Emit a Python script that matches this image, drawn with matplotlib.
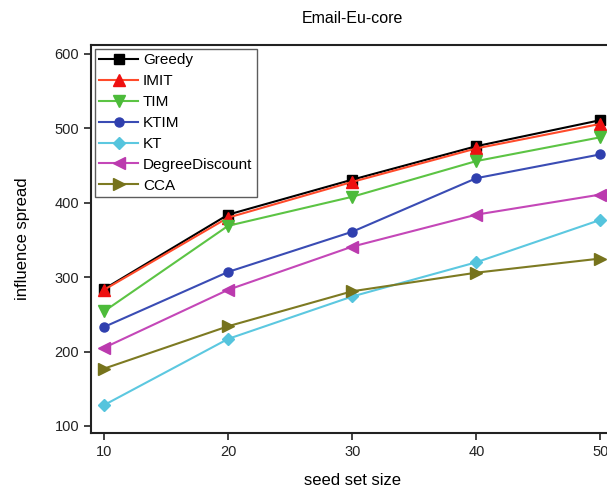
import matplotlib
matplotlib.use("Agg")
import matplotlib.pyplot as plt

seed_sizes = [10, 20, 30, 40, 50]
greedy = [284, 384, 431, 476, 511]
imit = [283, 380, 428, 473, 506]
tim = [254, 369, 408, 456, 488]
ktim = [233, 307, 361, 433, 465]
kt = [128, 217, 274, 320, 377]
degree_discount = [205, 283, 341, 384, 411]
cca = [177, 234, 281, 306, 325]

series = [
    ("Greedy", greedy, "#000000", "#000000", "s"),
    ("IMIT", imit, "#ff4a2a", "#ee1111", "^"),
    ("TIM", tim, "#5cc444", "#4cbb3a", "v"),
    ("KTIM", ktim, "#3a4cb4", "#2f3fae", "o"),
    ("KT", kt, "#5cc8e0", "#55c4dd", "D"),
    ("DegreeDiscount", degree_discount, "#c447b8", "#bb3aae", "<"),
    ("CCA", cca, "#7d7a22", "#76731c", ">"),
]

plt.rcParams['font.family'] = ['Liberation Sans', 'DejaVu Sans']

fig = plt.figure(figsize=(6.07, 4.91), dpi=100)
W, H = 607, 491
left, right, top, bottom = 91, 613.5, 45, 433
ax = fig.add_axes([left / W, 1 - bottom / H, (right - left) / W, (bottom - top) / H])

for name, vals, lc, mc, mk in series:
    ms = 6.5 if mk in ("s", "o", "D") else 8.5
    ax.plot(seed_sizes, vals, color=lc, marker=mk, markersize=ms,
            markerfacecolor=mc, markeredgecolor=mc, linewidth=1.5, label=name)

ax.set_xlim(8.95, 51.05)
ax.set_ylim(90.5, 612)
ax.set_xticks(seed_sizes)
ax.set_yticks([100, 200, 300, 400, 500, 600])
ax.tick_params(direction='out', length=5, width=1.2, labelsize=10.5, colors='#222222')
for s in ax.spines.values():
    s.set_linewidth(1.5)
    s.set_color('#222222')

ax.set_title("Email-Eu-core", fontsize=11.5, pad=16)
ax.set_xlabel("seed set size", fontsize=12, labelpad=10, fontweight='medium')
ax.set_ylabel("influence spread", fontsize=12, labelpad=18)

leg = ax.legend(loc='upper left', fontsize=11, frameon=True, fancybox=False,
                handlelength=2.5, handletextpad=0.35, labelspacing=0.45,
                borderpad=0.3, borderaxespad=0.25)
leg.get_frame().set_edgecolor('#333333')
leg.get_frame().set_linewidth(1.0)

fig.savefig("out.png", dpi=100)
